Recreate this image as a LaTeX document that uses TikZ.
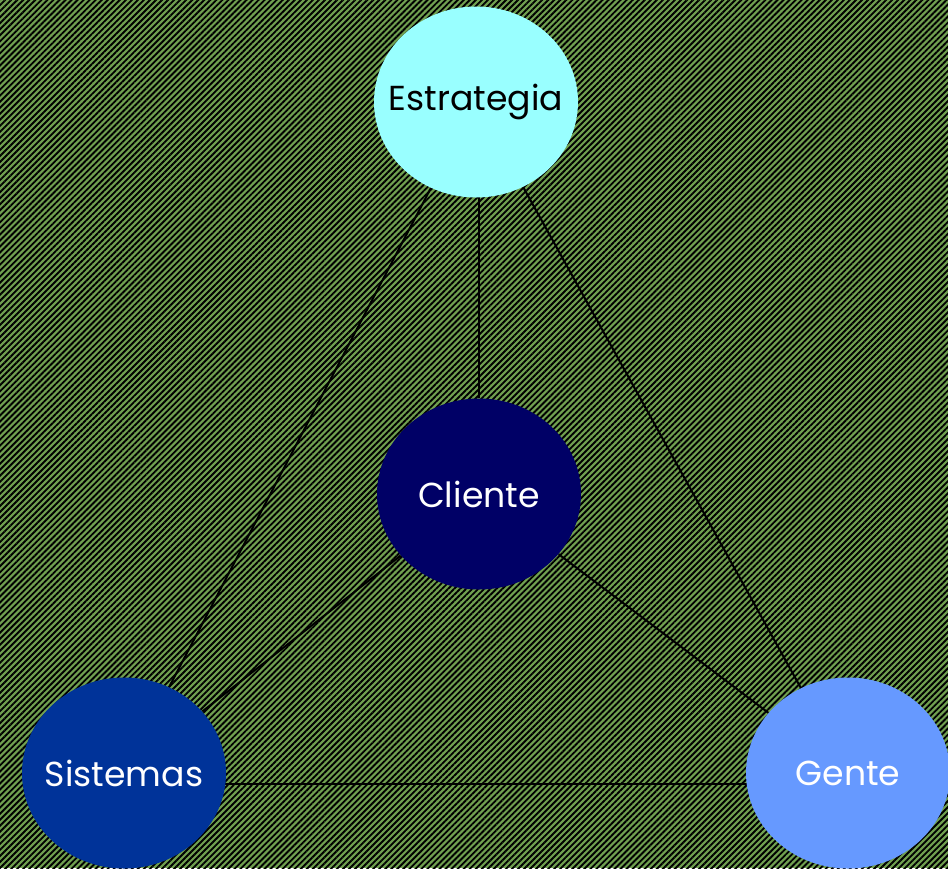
\documentclass[tikz,border=0pt]{standalone}
\usepackage{fontspec}
\setmainfont{Poppins}
\usetikzlibrary{shapes.geometric,patterns.meta,backgrounds}
\definecolor{bggreen}{HTML}{70A050}
\definecolor{estrcol}{HTML}{99FFFF}
\definecolor{clicol}{HTML}{000066}
\definecolor{siscol}{HTML}{003399}
\definecolor{gencol}{HTML}{6699FF}
\newcommand{\blobtext}[1]{\makebox[0pt]{#1}}
\begin{document}
\begin{tikzpicture}[x=0.75pt,y=-0.75pt,
    blob/.style={ellipse,minimum width=153pt,minimum height=143.25pt,inner sep=0pt,
      font=\fontsize{26}{30}\selectfont},
    link/.style={draw=black,line width=1.5pt}]
  \useasboundingbox (0,0) rectangle (948,868);
  \clip (0,0) rectangle (948,868);
  \node[blob,fill=estrcol,text=black](estr) at (476,102){\blobtext{Estrategia}};
  \node[blob,fill=clicol,text=white](cli) at (479,494){\blobtext{Cliente}};
  \node[blob,fill=siscol,text=white](sis) at (124,773){\blobtext{Sistemas}};
  \node[blob,fill=gencol,text=white](gen) at (848,773){\blobtext{Gente}};
  \begin{scope}[on background layer]
    \fill[bggreen] (0,0) rectangle (948,868);
    \fill[pattern={Lines[angle=45,distance=3.2pt,line width=1.4pt]},pattern color=black]
      (0,0) rectangle (948,868);
    \draw[link] (estr) -- (sis);
    \draw[link] (estr) -- (gen);
    \draw[link] ([xshift=2.25pt]estr.center) -- (cli);
    \draw[link] (cli) -- (sis);
    \draw[link] (cli) -- (gen);
    \draw[link] ([yshift=-8.25pt]sis.center) -- ([yshift=-8.25pt]gen.center);
  \end{scope}
\end{tikzpicture}
\end{document}
